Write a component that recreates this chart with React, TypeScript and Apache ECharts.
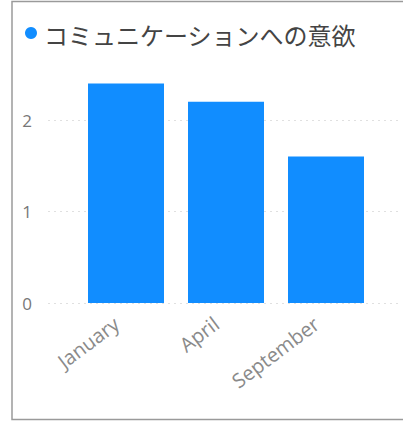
import React, { useEffect, useRef } from "react";
import * as echarts from "echarts";

const title = "コミュニケーションへの意欲";
const categories = ["January", "April", "September"];
const values = [2.4, 2.2, 1.6];
const yTicks = [0, 1, 2];

export default function App() {
  const ref = useRef<HTMLDivElement>(null);
  useEffect(() => {
    if (!ref.current) return;
    const chart = echarts.init(ref.current, null, { renderer: "svg" });
    const yMax = 3;
    const gridTop = 303 - 91.5 * yMax;
    const gridBottom = 421 - 303;
    chart.setOption({
      animation: false,
      backgroundColor: "#ffffff",
      grid: [
        { left: 76, right: 27, top: gridTop, bottom: gridBottom },
        { left: 48, right: 2, top: gridTop, bottom: gridBottom },
      ],
      xAxis: [
        {
          type: "category",
          gridIndex: 0,
          data: categories,
          axisLine: { show: false },
          axisTick: { show: false },
          axisLabel: {
            rotate: 37,
            color: "#8a8a8a",
            fontSize: 20,
            fontFamily: "Open Sans",
            margin: 11,
            padding: [0, 12, 0, 0],
          },
        },
        { type: "category", gridIndex: 1, data: [""], show: false },
      ],
      yAxis: [
        {
          type: "value",
          gridIndex: 0,
          min: 0,
          max: yMax,
          interval: 1,
          axisLabel: { show: false },
          splitLine: { show: false },
          axisLine: { show: false },
          axisTick: { show: false },
        },
        {
          type: "value",
          gridIndex: 1,
          min: 0,
          max: yMax,
          interval: 1,
          axisLine: { show: false },
          axisTick: { show: false },
          axisLabel: {
            color: "#777777",
            fontSize: 17,
            fontFamily: "Open Sans",
            margin: 16,
            showMaxLabel: false,
            formatter: (v: number) => (yTicks.includes(v) ? String(v) : ""),
          },
          splitLine: {
            show: true,
            showMaxLine: false,
            lineStyle: { color: "#e0e0e0", type: [2, 4], width: 1 },
          },
        },
      ],
      series: [
        {
          type: "bar",
          xAxisIndex: 0,
          yAxisIndex: 0,
          data: values,
          barCategoryGap: "24%",
          itemStyle: { color: "#118DFF" },
        },
      ],
      graphic: [
        {
          type: "rect",
          shape: { x: 12, y: 1.5, width: 420, height: 418 },
          style: { fill: "none", stroke: "#9a9a9a", lineWidth: 1.5 },
          silent: true,
        },
        {
          type: "circle",
          shape: { cx: 31, cy: 33, r: 6 },
          style: { fill: "#118DFF" },
        },
        {
          type: "text",
          x: 44,
          y: 34,
          style: {
            text: title,
            fill: "#444444",
            font: '24px "Noto Sans CJK JP"',
            textVerticalAlign: "middle",
          },
        },
      ],
    });
    return () => chart.dispose();
  }, []);
  return (
    <div
      ref={ref}
      style={{ position: "fixed", left: 0, top: 0, width: 403, height: 421 }}
    />
  );
}
